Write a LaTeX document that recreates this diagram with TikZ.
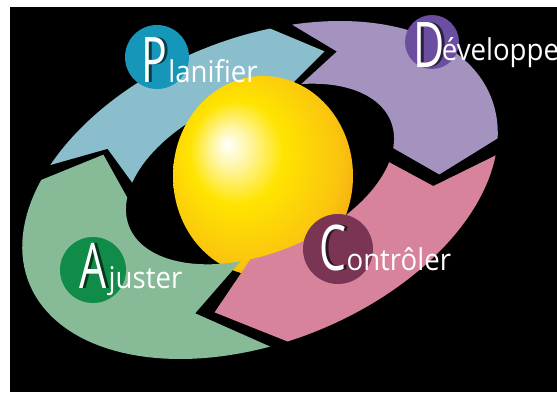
\documentclass[tikz,border=0pt]{standalone}
\usepackage{fontspec}
\setmainfont{Open Sans}
\newfontfamily\wordfont[FakeStretch=0.92]{Open Sans}
\newfontfamily\initialfont[FakeStretch=0.68]{Open Sans}
\usetikzlibrary{positioning}
\definecolor{planBlue}{RGB}{139,190,204}
\definecolor{doPurple}{RGB}{165,147,191}
\definecolor{checkPink}{RGB}{215,131,155}
\definecolor{actGreen}{RGB}{135,186,151}
\definecolor{planDisc}{RGB}{22,150,185}
\definecolor{doDisc}{RGB}{108,78,160}
\definecolor{checkDisc}{RGB}{122,52,84}
\definecolor{actDisc}{RGB}{16,140,72}
\definecolor{sunYellow}{RGB}{255,228,0}
\definecolor{sunGold}{RGB}{250,196,15}
\definecolor{sunOrange}{RGB}{240,142,25}
\pgfdeclareradialshading{sunball}{\pgfqpoint{-10bp}{8bp}}{%
  color(0bp)=(white); color(5bp)=(sunYellow!35!white);
  color(13bp)=(sunYellow); color(26bp)=(sunGold);
  color(38bp)=(sunOrange); color(50bp)=(sunOrange)}

% one bent chevron of the cycle:
% colour, tail (outer, inner), head (outer, inner), notch depth, tip depth
\newcommand\cyclearrow[7]{%
  \fill[#1] ({ox(#2)},{oy(#2)})
    -- plot[domain=#2:#4, samples=50, variable=\t] ({ox(\t)},{oy(\t)})
    -- ({0.52*ox(#4-#7)+0.48*ix(#5-#7)},{0.52*oy(#4-#7)+0.48*iy(#5-#7)})
    -- plot[domain=#5:#3, samples=50, variable=\t] ({ix(\t)},{iy(\t)})
    -- ({0.52*ox(#2-#6)+0.48*ix(#3-#6)},{0.52*oy(#2-#6)+0.48*iy(#3-#6)})
    -- cycle;}

\tikzset{
  phasedisc/.style={circle, inner sep=0pt, minimum size=#1},
  initial/.style={font=\initialfont\fontsize{63}{63}\selectfont, text=white,
    inner sep=0pt, anchor=base west},
  initialshade/.style={text=black, opacity=0.6},
  word/.style={font=\wordfont\fontsize{30}{30}\selectfont, text=white,
    inner sep=0pt, anchor=base west}
}

\begin{document}
\begin{tikzpicture}[x=1pt, y=1pt,
  declare function={
    ox(\t)=260+249*cos(\t)*0.9272-152*sin(\t)*0.3746;
    oy(\t)=202+249*cos(\t)*0.3746+152*sin(\t)*0.9272;
    ix(\t)=260+141*cos(\t)*0.9272-79*sin(\t)*0.3746;
    iy(\t)=218+141*cos(\t)*0.3746+79*sin(\t)*0.9272;
  }]
  % Page
  \fill[white] (0,0) rectangle (557,392);
  \useasboundingbox (0,0) rectangle (557,392);
  \fill[black] (10,0) rectangle (557,385);

  % Upper arrows
  \cyclearrow{planBlue}{138}{149.7}{73.7}{63.9}{11}{14}
  \cyclearrow{doPurple}{68.4}{59.3}{-15.7}{-19.1}{13}{14}

  % Sphere
  \shade[shading=sunball] (263,216) ellipse [x radius=90, y radius=100];

  % Lower arrows
  \cyclearrow{checkPink}{-21.7}{-28.3}{-97.2}{-106.9}{12}{17}
  \cyclearrow{actGreen}{-101.4}{-111.2}{-216.9}{-200.7}{19}{15}

  % Planifier
  \node[phasedisc=64, fill=planDisc] (planDisc) at (157,335) {};
  \coordinate (planBase) at (141,310);
  \node[initial, initialshade] (planLetterShade) at ([xshift=3]planBase) {P};
  \node[initial] (planLetter) at (planBase) {P};
  \node[word] (planWord) at ([xshift=1]planLetter.base east) {lanifier};

  % Developper
  \node[phasedisc=54, fill=doDisc] (doDisc) at (432,350) {};
  \coordinate (doBase) at (413,324);
  \node[initial, initialshade] (doLetterShade) at ([xshift=3]doBase) {D};
  \node[initial] (doLetter) at (doBase) {D};
  \node[word] (doWord) at ([shift={(-3,7)}]doLetter.base east) {éveloppe};

  % Controler
  \node[phasedisc=70, fill=checkDisc] (checkDisc) at (338,143) {};
  \coordinate (checkBase) at (319,122);
  \node[initial, initialshade] (checkLetterShade) at ([xshift=3]checkBase) {C};
  \node[initial] (checkLetter) at (checkBase) {C};
  \node[word] (checkWord) at ([xshift=0]checkLetter.base east) {ontrôler};

  % Ajuster
  \node[phasedisc=66, fill=actDisc] (actDisc) at (93,122) {};
  \coordinate (actBase) at (79,104);
  \node[initial, initialshade] (actLetterShade) at ([xshift=3]actBase) {A};
  \node[initial] (actLetter) at (actBase) {A};
  \node[word] (actWord) at ([xshift=2]actLetter.base east) {juster};
\end{tikzpicture}
\end{document}
